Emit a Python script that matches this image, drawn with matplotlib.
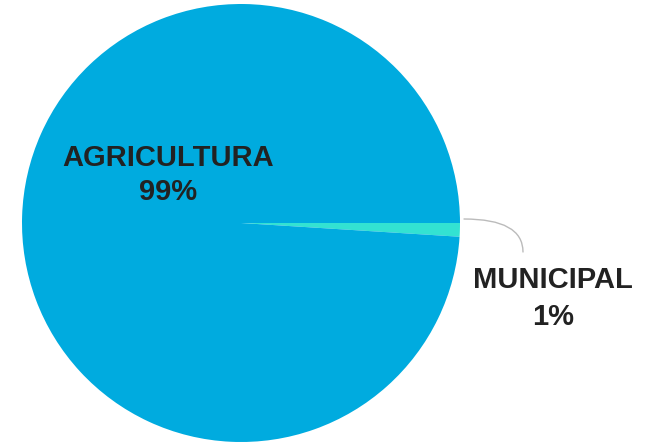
import matplotlib.pyplot as plt

sectors = ["MUNICIPAL", "AGRICULTURA"]
shares = [1, 99]
colors = ["#33E2D2", "#00ABDF"]

W, H = 647, 442
fig = plt.figure(figsize=(W / 100, H / 100), dpi=100)
ax = fig.add_axes([0, 0, 1, 1])

cx, cy, r = 241, H - 223, 219
ax.pie(shares, colors=colors, startangle=0, counterclock=False,
       center=(cx, cy), radius=r, frame=True,
       wedgeprops={"linewidth": 0})
ax.set_xlim(0, W)
ax.set_ylim(0, H)
ax.axis("off")

font = {"family": "Liberation Sans", "weight": "bold", "size": 21, "color": "#222222"}

# label inside the big slice
ax.text(168, H - 158, sectors[1], ha="center", va="center", **font)
ax.text(168, H - 192, f"{shares[1]}%", ha="center", va="center", **font)

# label outside the thin slice, with a curved leader
ax.text(553, H - 280, sectors[0], ha="center", va="center", **font)
ax.text(553, H - 317, f"{shares[0]}%", ha="center", va="center", **font)
ax.annotate("", xy=(523, H - 252), xytext=(464, H - 219),
            arrowprops=dict(arrowstyle="-", color="#BBBBBB", lw=1,
                            shrinkA=0, shrinkB=0,
                            connectionstyle="angle3,angleA=0,angleB=90"))

fig.savefig("out.png", dpi=100)
